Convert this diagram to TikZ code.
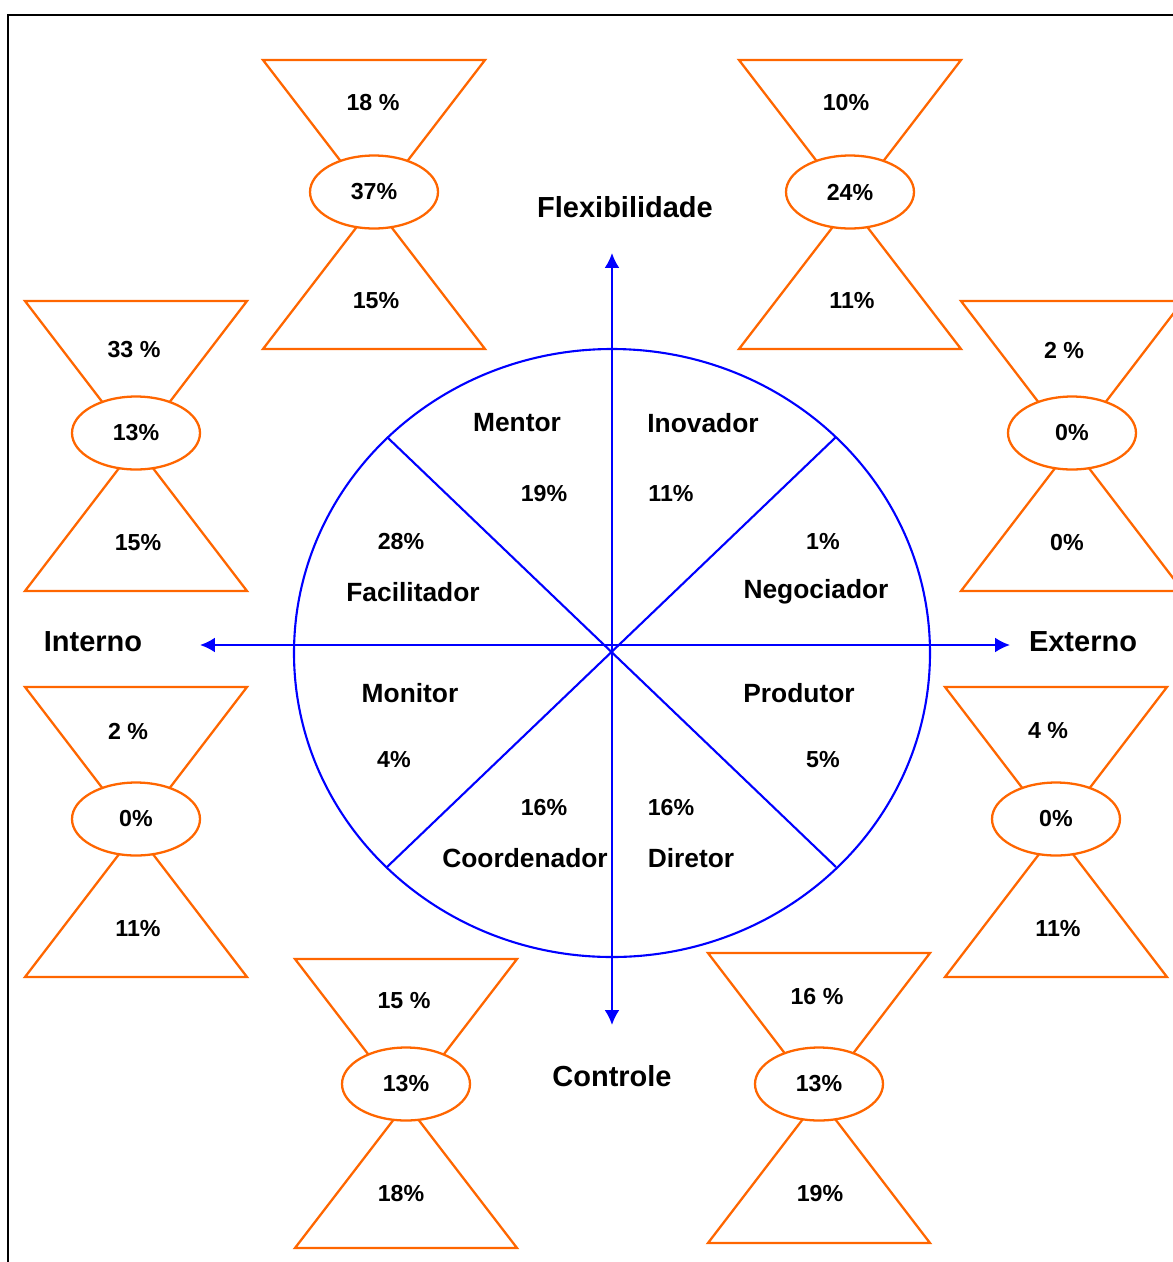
\documentclass[tikz,border=0pt]{standalone}
\usepackage{fontspec}
\setmainfont{Liberation Sans}
\usetikzlibrary{shapes.geometric,arrows.meta}
\definecolor{laranja}{RGB}{255,102,0}
\definecolor{azul}{RGB}{0,0,255}
\tikzset{
  eixo/.style={azul,line width=1.2pt,{Latex[length=8.5pt,width=8.5pt]}-{Latex[length=8.5pt,width=8.5pt]}},
  linha/.style={azul,line width=1.2pt},
  ampulheta/.style={laranja,line width=1.3pt},
  miolo/.style={ellipse,draw=laranja,line width=1.3pt,fill=white,minimum width=2.56cm,minimum height=1.46cm,inner sep=0pt},
  rotulo/.style={font=\bfseries\fontsize{16.5}{19}\selectfont},
  papel/.style={font=\bfseries\fontsize{15}{18}\selectfont},
  pct/.style={font=\bfseries\fontsize{13.2}{16}\selectfont}
}
\begin{document}
\begin{tikzpicture}[x=0.02cm,y=-0.02cm]
  \clip (0,0) rectangle (1173,1262);
  \draw[line width=1.2pt] (8,1300)--(8,15)--(1200,15);

  % circulo e eixos
  \coordinate (centro) at (612,653);
  \draw[linha] (centro) ellipse [x radius=318,y radius=304];
  \coordinate (no) at (387,437);
  \coordinate (ne) at (836,437);
  \coordinate (so) at (387,867);
  \coordinate (se) at (836,867);
  \draw[linha] (no)--(se);
  \draw[linha] (ne)--(so);
  \coordinate (norte) at (612,253);
  \coordinate (sul) at (612,1025);
  \coordinate (oeste) at (200,645);
  \coordinate (leste) at (1010,645);
  \draw[eixo] (oeste)--(leste);
  \draw[eixo] (sul)--(norte);

  \node[rotulo] (flex) at (625,207) {Flexibilidade};
  \node[rotulo] (contr) at (612,1076) {Controle};
  \node[rotulo] (int) at (93,642) {Interno};
  \node[rotulo] (ext) at (1083,642) {Externo};

  \node[papel] (mentor) at (517,423) {Mentor};
  \node[papel] (inov) at (703,423) {Inovador};
  \node[papel] (facil) at (413,592) {Facilitador};
  \node[papel] (negoc) at (816,592) {Negociador};
  \node[papel] (monit) at (410,693) {Monitor};
  \node[papel] (produt) at (799,693) {Produtor};
  \node[papel] (coord) at (525,858) {Coordenador};
  \node[papel] (diret) at (691,858) {Diretor};

  \node[pct] (pmentor) at (544,494) {19\%};
  \node[pct] (pinov) at (671,494) {11\%};
  \node[pct] (pfacil) at (401,542) {28\%};
  \node[pct] (pnegoc) at (823,542) {1\%};
  \node[pct] (pmonit) at (394,760) {4\%};
  \node[pct] (pprodut) at (823,760) {5\%};
  \node[pct] (pcoord) at (544,808) {16\%};
  \node[pct] (pdiret) at (671,808) {16\%};

  % ampulhetas: centro x / topo / base / elipse y / texto de cima / meio / texto de baixo
  \foreach \cx/\ty/\by/\ey/\ax/\ay/\a/\b/\bx/\byy/\c [count=\i] in {
      374/60/349/192/373/103/18 \%/37\%/376/301/15\%,
      850/60/349/192/846/103/10\%/24\%/852/301/11\%,
      136/301/591/433/134/350/33 \%/13\%/138/543/15\%,
      1072/301/591/433/1064/350/2 \%/0\%/1067/543/0\%,
      136/687/977/819/128/731/2 \%/0\%/138/929/11\%,
      1056/687/977/819/1048/731/4 \%/0\%/1058/929/11\%,
      406/959/1248/1084/404/1001/15 \%/13\%/401/1194/18\%,
      819/953/1243/1084/817/997/16 \%/13\%/820/1194/19\%}{
    \draw[ampulheta] (\cx-111,\ty)--(\cx+111,\ty)--(\cx,{(\ty+\by)/2})--cycle;
    \draw[ampulheta] (\cx-111,\by)--(\cx+111,\by)--(\cx,{(\ty+\by)/2})--cycle;
    \node[miolo,pct] (m\i) at (\cx,\ey) {\b};
    \node[pct] (a\i) at (\ax,\ay) {\a};
    \node[pct] (b\i) at (\bx,\byy) {\c};
  }
\end{tikzpicture}
\end{document}
